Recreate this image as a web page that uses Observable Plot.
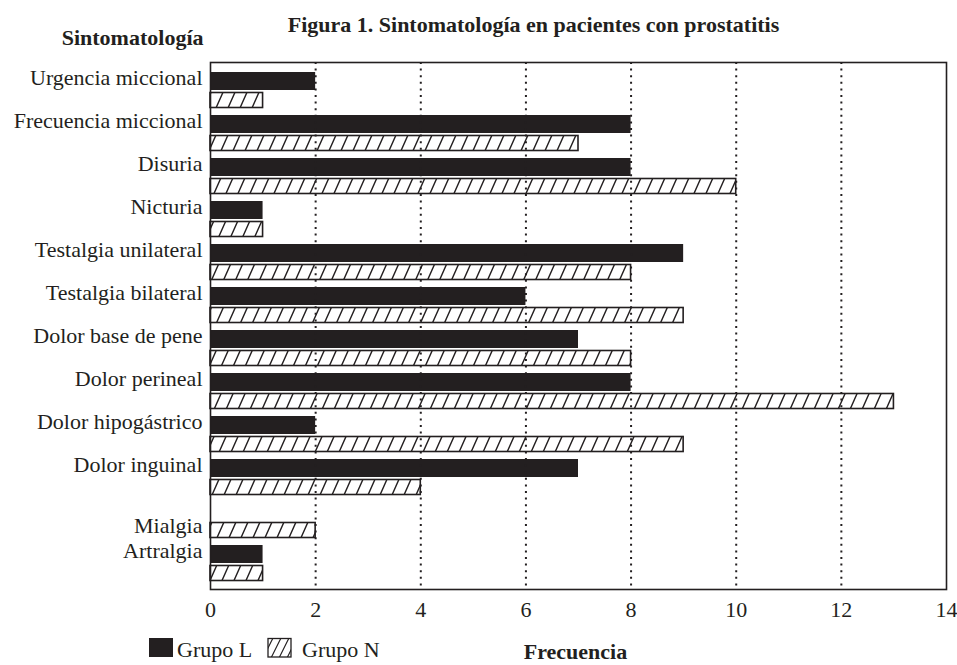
<!DOCTYPE html>
<html>
<head>
<meta charset="utf-8">
<script src="https://cdn.jsdelivr.net/npm/d3@7"></script>
<script src="https://cdn.jsdelivr.net/npm/@observablehq/plot@0.6"></script>
<style>
  html, body { margin: 0; padding: 0; background: white; }
  #chart { width: 957px; height: 665px; }
</style>
</head>
<body>
<div id="chart"></div>
<script>
const categories = ["Urgencia miccional", "Frecuencia miccional", "Disuria", "Nicturia",
  "Testalgia unilateral", "Testalgia bilateral", "Dolor base de pene", "Dolor perineal",
  "Dolor hipogástrico", "Dolor inguinal", "Mialgia", "Artralgia"];
const grupoL = [2, 8, 8, 1, 9, 6, 7, 8, 2, 7, 0, 1];
const grupoN = [1, 7, 10, 1, 8, 9, 8, 13, 9, 4, 2, 1];
const groups = ["Grupo L", "Grupo N"];
const xTicks = [0, 2, 4, 6, 8, 10, 12, 14];
const title = "Figura 1. Sintomatología en pacientes con prostatitis";
const yTitle = "Sintomatología";
const xTitle = "Frecuencia";

const ink = "#231f20";
const rowsL = categories.map((c, i) => ({cat: c, grupo: groups[0], v: grupoL[i]}));
const rowsN = categories.map((c, i) => ({cat: c, grupo: groups[1], v: grupoN[i]}));
const gridTicks = xTicks.filter(t => t > xTicks[0] && t < xTicks[xTicks.length - 1]);
// categories with only a Grupo N bar get their label aligned with that bar
const onlyN = categories.filter((c, i) => grupoL[i] === 0);
const withL = categories.filter((c, i) => grupoL[i] !== 0);

const font = "'Liberation Serif', 'Times New Roman', serif";

const chart = Plot.plot({
  width: 957,
  height: 665,
  marginTop: 62,
  marginBottom: 76,
  marginLeft: 210,
  marginRight: 11,
  style: {fontFamily: font, fontSize: "22px", color: ink, background: "white", overflow: "visible"},
  x: {domain: [0, 14], ticks: xTicks},
  y: {domain: categories, padding: 0},
  marks: [
    Plot.barX(rowsL.filter(d => d.v > 0), {y: "cat", x: "v", fill: ink, insetTop: 4, insetBottom: 21}),
    Plot.barX(rowsN.filter(d => d.v > 0), {y: "cat", x: "v", fill: "url(#hatch)", stroke: ink, strokeWidth: 1.6, insetTop: 24.5, insetBottom: 3.5}),
    Plot.ruleX(gridTicks, {stroke: ink, strokeWidth: 2, strokeDasharray: "2,4.6"}),
    Plot.frame({stroke: ink, strokeWidth: 1.6}),
    Plot.axisY(withL, {tickSize: 0, tickPadding: 8, fontSize: 22, dy: -12, label: null}),
    Plot.axisY(onlyN, {tickSize: 0, tickPadding: 8, fontSize: 22, dy: 6, label: null}),
    Plot.axisX({ticks: xTicks, tickSize: 0, tickPadding: 12, fontSize: 22, label: null}),
    Plot.text([title], {frameAnchor: "top", dx: -45, dy: -46, fontWeight: "bold", fontSize: 22}),
    Plot.text([yTitle], {frameAnchor: "top-left", textAnchor: "end", dx: -7, dy: -33, fontWeight: "bold", fontSize: 22}),
    Plot.text([xTitle], {frameAnchor: "bottom", dx: -3, dy: 69, fontWeight: "bold", fontSize: 22})
  ]
});

const svg = d3.select(chart);
const defs = svg.insert("defs", ":first-child");
const pat = defs.append("pattern").attr("id", "hatch")
  .attr("patternUnits", "userSpaceOnUse").attr("width", 12).attr("height", 27);
pat.append("rect").attr("width", 12).attr("height", 27).attr("fill", "white");
pat.append("path").attr("d", "M-3,6.75 L3,-6.75 M0,27 L12,0 M9,33.75 L15,20.25")
  .attr("stroke", ink).attr("stroke-width", 1.4).attr("fill", "none");

// legend
const lg = svg.append("g").attr("font-family", font).attr("font-size", 22)
  .attr("fill", ink).attr("text-anchor", "start");
lg.append("rect").attr("x", 149).attr("y", 638).attr("width", 24).attr("height", 19).attr("fill", ink);
lg.append("text").attr("x", 177).attr("y", 657).attr("text-anchor", "start").text(groups[0]);
const hp = defs.append("pattern").attr("id", "hatchLegend")
  .attr("patternUnits", "userSpaceOnUse").attr("width", 8).attr("height", 16);
hp.append("rect").attr("width", 8).attr("height", 16).attr("fill", "white");
hp.append("path").attr("d", "M-2,4 L2,-4 M0,16 L8,0 M6,20 L10,12")
  .attr("stroke", ink).attr("stroke-width", 1.2).attr("fill", "none");
lg.append("rect").attr("x", 268).attr("y", 638.5).attr("width", 23).attr("height", 18.5)
  .attr("fill", "url(#hatchLegend)").attr("stroke", ink).attr("stroke-width", 1.3);
lg.append("text").attr("x", 302).attr("y", 657).attr("text-anchor", "start").text(groups[1]);

document.getElementById("chart").appendChild(chart);
</script>
</body>
</html>
